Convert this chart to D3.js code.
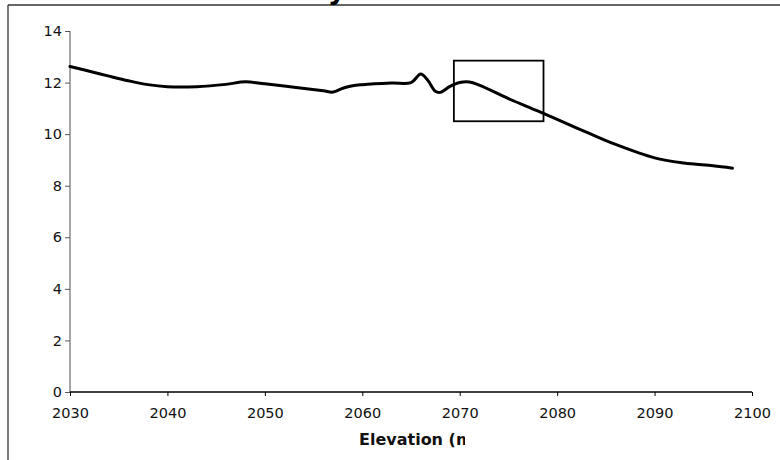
<!DOCTYPE html>
<html>
<head>
<meta charset="utf-8">
<script src="https://cdn.jsdelivr.net/npm/d3@7"></script>
<style>
  html, body { margin: 0; padding: 0; background: #fff; }
  svg { display: block; }
  text { font-family: "DejaVu Sans", Verdana, sans-serif; }
</style>
</head>
<body>
<svg id="chart" width="780" height="460"></svg>
<script>
// ---- data ----
const elevation = [2030, 2032, 2034, 2036, 2038, 2040, 2043, 2046, 2048, 2050, 2053, 2056, 2057, 2058, 2059, 2060, 2063, 2065, 2066, 2066.7, 2067.5, 2068, 2069, 2070, 2071, 2072, 2075, 2078, 2080, 2083, 2086, 2090, 2093, 2096, 2098];
const values    = [12.62, 12.44, 12.25, 12.07, 11.92, 11.84, 11.84, 11.93, 12.03, 11.95, 11.82, 11.68, 11.63, 11.78, 11.88, 11.92, 11.98, 12.0, 12.33, 12.1, 11.66, 11.62, 11.85, 12.0, 12.02, 11.9, 11.38, 10.9, 10.57, 10.08, 9.6, 9.08, 8.88, 8.77, 8.68];
const xTicks = [2030, 2040, 2050, 2060, 2070, 2080, 2090, 2100];
const yTicks = [0, 2, 4, 6, 8, 10, 12, 14];
const boxElev = [2069.4, 2078.6];
const boxVal  = [10.5, 12.85];
const titleText = "Velocity";
const xAxisTitle = "Elevation (m)";

// ---- layout ----
const W = 780, H = 460;
const margin = { left: 70, right: 28, top: 31, bottom: 68 };
const svg = d3.select("#chart");

const x = d3.scaleLinear().domain([2030, 2100]).range([margin.left, W - margin.right]);
const y = d3.scaleLinear().domain([0, 14]).range([H - margin.bottom, margin.top]);

// outer frame (partially visible)
svg.append("line").attr("x1", 8).attr("x2", W).attr("y1", 5).attr("y2", 5)
  .attr("stroke", "#333").attr("stroke-width", 1.3);
svg.append("line").attr("x1", 8).attr("x2", 8).attr("y1", 5).attr("y2", H)
  .attr("stroke", "#333").attr("stroke-width", 1.3);

// title (cut off at top: only the descender shows)
svg.append("text").attr("x", 346).attr("y", -1.5)
  .attr("text-anchor", "end").attr("font-size", 28).attr("font-weight", "bold")
  .attr("fill", "#000").text(titleText);

// y axis
const yAxis = svg.append("g").attr("transform", `translate(${margin.left},0)`)
  .call(d3.axisLeft(y).tickValues(yTicks).tickSize(5).tickPadding(3).tickFormat(d3.format("d")));
yAxis.select(".domain").attr("stroke", "#888").attr("stroke-width", 1.5).attr("d", `M0,${y(14)}V${y(0)}`);
yAxis.selectAll(".tick line").attr("stroke", "#555");
yAxis.selectAll("text").attr("font-size", 14.5).attr("fill", "#111");

// x axis
const xAxis = svg.append("g").attr("transform", `translate(0,${y(0)})`)
  .call(d3.axisBottom(x).tickValues(xTicks).tickSize(4).tickPadding(12).tickFormat(d3.format("d")));
xAxis.select(".domain").attr("stroke", "#000").attr("stroke-width", 1.3).attr("d", `M${x(2030)},0H${x(2100)}`);
xAxis.selectAll(".tick line").attr("stroke", "#000");
xAxis.selectAll("text").attr("font-size", 14.5).attr("fill", "#111");

// x axis title, clipped
svg.append("clipPath").attr("id", "titleClip")
  .append("rect").attr("x", 0).attr("y", 420).attr("width", 465).attr("height", 40);
svg.append("text").attr("clip-path", "url(#titleClip)")
  .attr("x", 359).attr("y", 445).attr("font-size", 16).attr("font-weight", "bold")
  .attr("fill", "#111").text(xAxisTitle);

// curve
const pts = elevation.map((e, i) => [e, values[i]]);
const line = d3.line().x(d => x(d[0])).y(d => y(d[1])).curve(d3.curveCatmullRom.alpha(0.5));
svg.append("path").datum(pts).attr("d", line)
  .attr("fill", "none").attr("stroke", "#000").attr("stroke-width", 3)
  .attr("stroke-linejoin", "round").attr("stroke-linecap", "round");

// annotation box
svg.append("rect")
  .attr("x", x(boxElev[0])).attr("y", y(boxVal[1]))
  .attr("width", x(boxElev[1]) - x(boxElev[0]))
  .attr("height", y(boxVal[0]) - y(boxVal[1]))
  .attr("fill", "none").attr("stroke", "#000").attr("stroke-width", 1.8);
</script>
</body>
</html>
